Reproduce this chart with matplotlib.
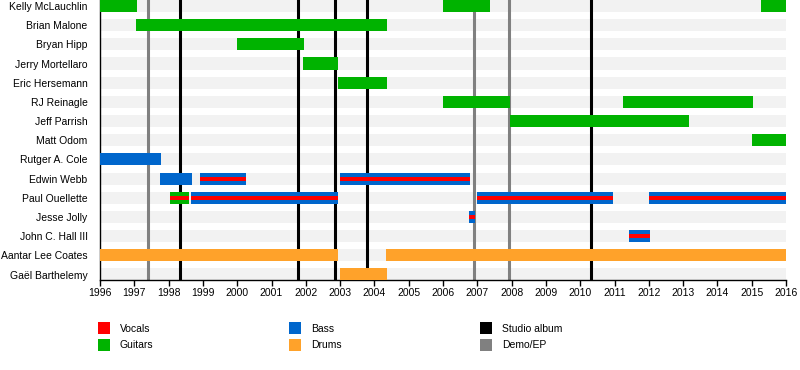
import matplotlib
matplotlib.use("Agg")
from matplotlib import pyplot as plt
from matplotlib.patches import Rectangle

plt.rcParams['font.family'] = ['Liberation Sans', 'DejaVu Sans']

members = ['Kelly McLauchlin', 'Brian Malone', 'Bryan Hipp', 'Jerry Mortellaro',
           'Eric Hersemann', 'RJ Reinagle', 'Jeff Parrish', 'Matt Odom',
           'Rutger A. Cole', 'Edwin Webb', 'Paul Ouellette', 'Jesse Jolly',
           'John C. Hall III', 'Aantar Lee Coates', 'Gaël Barthelemy']

# (member, start, end, main role, with vocals)
periods = [
    ('Kelly McLauchlin', 1996.0, 1997.07, 'Guitars', False),
    ('Kelly McLauchlin', 2006.0, 2007.37, 'Guitars', False),
    ('Kelly McLauchlin', 2015.27, 2016.0, 'Guitars', False),
    ('Brian Malone', 1997.05, 2004.36, 'Guitars', False),
    ('Bryan Hipp', 2000.0, 2001.95, 'Guitars', False),
    ('Jerry Mortellaro', 2001.93, 2002.95, 'Guitars', False),
    ('Eric Hersemann', 2002.93, 2004.36, 'Guitars', False),
    ('RJ Reinagle', 2006.0, 2007.95, 'Guitars', False),
    ('RJ Reinagle', 2011.25, 2015.05, 'Guitars', False),
    ('Jeff Parrish', 2007.95, 2013.17, 'Guitars', False),
    ('Matt Odom', 2015.0, 2016.0, 'Guitars', False),
    ('Rutger A. Cole', 1996.0, 1997.78, 'Bass', False),
    ('Edwin Webb', 1997.76, 1998.68, 'Bass', False),
    ('Edwin Webb', 1998.92, 2000.26, 'Bass', True),
    ('Edwin Webb', 2003.0, 2006.79, 'Bass', True),
    ('Paul Ouellette', 1998.04, 1998.6, 'Guitars', True),
    ('Paul Ouellette', 1998.65, 2002.95, 'Bass', True),
    ('Paul Ouellette', 2007.0, 2010.96, 'Bass', True),
    ('Paul Ouellette', 2012.0, 2016.0, 'Bass', True),
    ('Jesse Jolly', 2006.76, 2006.93, 'Bass', True),
    ('John C. Hall III', 2011.42, 2012.03, 'Bass', True),
    ('Aantar Lee Coates', 1996.0, 2002.95, 'Drums', False),
    ('Aantar Lee Coates', 2004.35, 2016.0, 'Drums', False),
    ('Gaël Barthelemy', 2003.0, 2004.37, 'Drums', False),
]

studio_albums = [1998.33, 2001.78, 2002.84, 2003.77, 2010.31]
demos = [1997.41, 2006.9, 2007.92]
years = list(range(1996, 2017))

colors = {'Vocals': '#ff0000', 'Guitars': '#00b300', 'Bass': '#0066cc',
          'Drums': '#ffa22a', 'Studio album': '#000000', 'Demo/EP': '#808080'}

fig = plt.figure(figsize=(8, 3.7), dpi=100)
ax = fig.add_axes([100 / 800, 1 - 280 / 370, 686 / 800, 280 / 370])

bar_h = 0.63
for i, name in enumerate(members):
    ax.add_patch(Rectangle((1996, i - bar_h / 2), 20, bar_h, color='#f2f2f2', lw=0, zorder=1))

row = {m: i for i, m in enumerate(members)}
for name, start, end, role, vocals in periods:
    y = row[name]
    ax.add_patch(Rectangle((start, y - bar_h / 2), end - start, bar_h,
                           color=colors[role], lw=0, zorder=3))
    if vocals:
        ax.add_patch(Rectangle((start, y - bar_h / 6), end - start, bar_h / 3,
                               color=colors['Vocals'], lw=0, zorder=4))

# release lines sit behind the member bars
for x in studio_albums:
    ax.axvline(x, color=colors['Studio album'], lw=2.2, zorder=2)
for x in demos:
    ax.axvline(x, color=colors['Demo/EP'], lw=2.2, zorder=2)

ax.set_xlim(1996, 2016)
ax.set_ylim(14 + 5.5 / 19.18, -6 / 19.18)
ax.set_xticks(years)
ax.set_xticklabels([str(y) for y in years], fontsize=7.5)
ax.set_yticks(range(len(members)))
ax.set_yticklabels(members, fontsize=7.5)
ax.tick_params(axis='y', length=0, pad=9)
ax.tick_params(axis='x', length=4, width=1, pad=2)
for side in ['top', 'right']:
    ax.spines[side].set_visible(False)
ax.spines['left'].set_linewidth(1)
ax.spines['bottom'].set_linewidth(1)

# legend
legend_cols = [
    (98, ['Vocals', 'Guitars']),
    (289, ['Bass', 'Drums']),
    (480, ['Studio album', 'Demo/EP']),
]
for x0, labels in legend_cols:
    for j, lab in enumerate(labels):
        ytop = 322 + j * 17
        fig.patches.append(Rectangle((x0 / 800, 1 - (ytop + 12) / 370), 12 / 800, 12 / 370,
                                     color=colors[lab], lw=0, transform=fig.transFigure))
        fig.text((x0 + 22) / 800, 1 - (ytop + 6.5) / 370, lab, fontsize=7.5,
                 va='center', ha='left')

fig.savefig('out.png', dpi=100)
